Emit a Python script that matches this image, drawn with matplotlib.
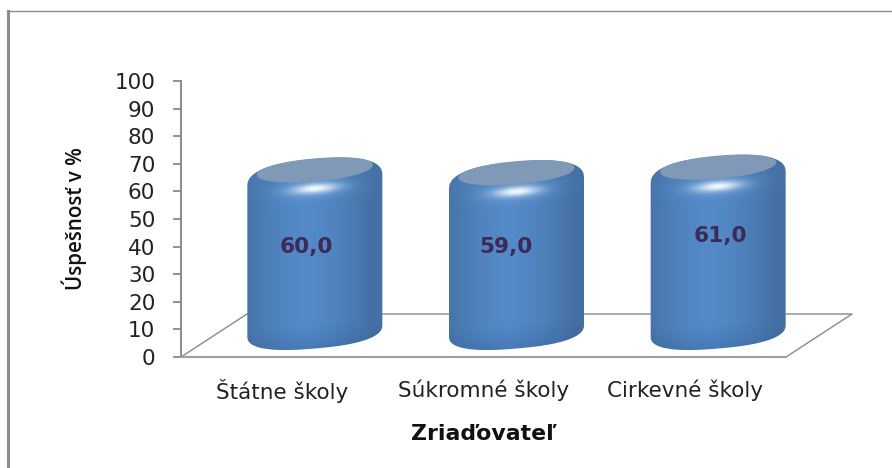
import numpy as np
import matplotlib
matplotlib.use("Agg")
import matplotlib.pyplot as plt
from matplotlib.lines import Line2D
from matplotlib.patches import PathPatch
from matplotlib.path import Path

categories = ["Štátne školy", "Súkromné školy", "Cirkevné školy"]
values = [60.0, 59.0, 61.0]
value_labels = ["60,0", "59,0", "61,0"]
y_ticks = [0, 10, 20, 30, 40, 50, 60, 70, 80, 90, 100]

W, H = 892, 468
GREY = "#8f8f8f"

fig = plt.figure(figsize=(W / 100, H / 100), dpi=100)
ax = fig.add_axes([181 / W, 1 - 357 / H, 605 / W, 276 / H])
ax.set_xlim(0, 3)
ax.set_ylim(0, 100)

# one pixel in data units
PX = 3 / 605
PY = 100 / 276
DEPTH_X = 66 * PX
DEPTH_Y = 43 * PY

ax.spines["top"].set_visible(False)
ax.spines["right"].set_visible(False)
ax.spines["left"].set_color(GREY)
ax.spines["left"].set_linewidth(1.5)
ax.spines["bottom"].set_color("#a0a0a0")
ax.spines["bottom"].set_linewidth(1.5)
ax.patch.set_alpha(0)

ax.set_yticks(y_ticks)
ax.tick_params(axis="y", length=6, width=1.4, color=GREY, pad=12.5, labelsize=15.5, labelcolor="#222222")
ax.set_xticks(np.arange(len(categories)) + 0.5)
ax.set_xticklabels(categories)
ax.tick_params(axis="x", length=0, pad=16, labelsize=15.5, labelcolor="#222222")

ax.set_ylabel("Úspešnosť v %", fontname="Open Sans", fontweight="semibold", fontsize=14.8, labelpad=20, color="#111111")
ax.set_xlabel("Zriaďovateľ", fontweight="bold", fontsize=15.8, labelpad=15, color="#111111")

# floor of the 3d box
ax.plot([0, DEPTH_X, 3 + DEPTH_X, 3], [0, DEPTH_Y, DEPTH_Y, 0], color="#8a8a8a", lw=1.0, clip_on=False, zorder=1)


def superellipse(a, b, n, shear, start, stop):
    t = np.linspace(start, stop, 60)
    x = a * np.sign(np.cos(t)) * np.abs(np.cos(t)) ** (2 / n)
    y = b * np.sign(np.sin(t)) * np.abs(np.sin(t)) ** (2 / n)
    return x, y + shear * x


def draw_cylinder(cx, base, value):
    a, shear = 67.5, 0.085
    top = base + value

    # outline in pixels around the centre, then back to data units
    x1, y1 = superellipse(a, 22, 2.5, shear, 0, np.pi)
    x2, y2 = superellipse(a, 18, 2.5, shear, np.pi, 2 * np.pi)
    xs = np.r_[cx + x1 * PX, cx + x2 * PX]
    ys = np.r_[top + (y1 - 11) * PY, base + (y2 + 5) * PY]
    outline = PathPatch(Path(np.c_[xs, ys]), transform=ax.transData, fc="none", ec="none")
    ax.add_patch(outline)

    # shading as a small rgb image
    nx, ny = 140, 240
    margin = 30
    u = np.linspace(-1, 1, nx)[None, :].repeat(ny, 0)
    py = np.linspace(top + margin * PY, base - margin * PY, ny)[:, None].repeat(nx, 1)
    dtop = (top - py) / PY + shear * a * u  # px below top centre, follows the tilt
    dbot = (py - base) / PY - shear * a * u

    dark = np.array([0.27, 0.44, 0.64])
    mid = np.array([0.33, 0.54, 0.79])
    s = np.clip(np.abs(u + 0.12) / 0.95, 0, 1) ** 1.5
    img = mid[None, None, :] * (1 - s[..., None]) + dark[None, None, :] * s[..., None]

    # light rim on silhouette
    rim = np.clip((np.abs(u) - 0.975) / 0.025, 0, 1)[..., None]
    img = img * (1 - 0.45 * rim) + np.array([0.7, 0.78, 0.86]) * 0.45 * rim

    # bevel at the top and at the bottom
    high = np.clip((30 - dtop) / 24, 0, 1)[..., None]
    img = img * (1 - 0.2 * high) + np.array([0.27, 0.47, 0.71]) * 0.2 * high
    low = np.clip((12 - dbot) / 26, 0, 1)[..., None]
    img = img * (1 - 0.4 * low) + np.array([0.2, 0.38, 0.6]) * 0.4 * low

    # white highlight with a pale glow round it
    pale = np.exp(-(u / 0.5) ** 2 - ((dtop - 19) / 9) ** 2)[..., None]
    img = img * (1 - 0.45 * pale) + np.array([0.55, 0.73, 0.9]) * 0.45 * pale
    glow = np.exp(-(u / 0.3) ** 2 - ((dtop - 19) / 4.6) ** 2)[..., None]
    img = img * (1 - glow) + np.array([0.96, 0.98, 1.0]) * glow

    extent = [cx - 70 * PX, cx + 70 * PX, base - margin * PY, top + margin * PY]
    im = ax.imshow(np.clip(img, 0, 1), extent=extent, aspect="auto", interpolation="bilinear", zorder=3)
    im.set_clip_path(outline)

    # flat top surface
    xt, yt = superellipse(58, 11.5, 2.1, shear, 0, 2 * np.pi)
    ax.fill(cx + xt * PX, top + yt * PY, color="#7f99b7", lw=0, zorder=4)


# the labels were placed by hand in the original, nudges in data units
label_nudge = [(-0.04, 2.1), (-0.05, 2.6), (0.01, 5.6)]

for i, v in enumerate(values):
    cx = i + 0.5 + DEPTH_X / 2
    base = DEPTH_Y / 2
    draw_cylinder(cx, base, v)
    ax.text(cx + label_nudge[i][0], base + v / 2 + label_nudge[i][1], value_labels[i], ha="center", va="center",
            fontsize=15.6, fontweight="bold", color="#3d2b57", zorder=5)

ax.set_xlim(0, 3)
ax.set_ylim(0, 100)

# chart frame, left and top edge only
fig.add_artist(Line2D([7.5 / W, 7.5 / W], [0, 1 - 11 / H], color="#8c8c8c", lw=2.2))
fig.add_artist(Line2D([6.5 / W, 1], [1 - 11 / H, 1 - 11 / H], color="#8c8c8c", lw=1.0))

fig.savefig("out.png", dpi=100)
